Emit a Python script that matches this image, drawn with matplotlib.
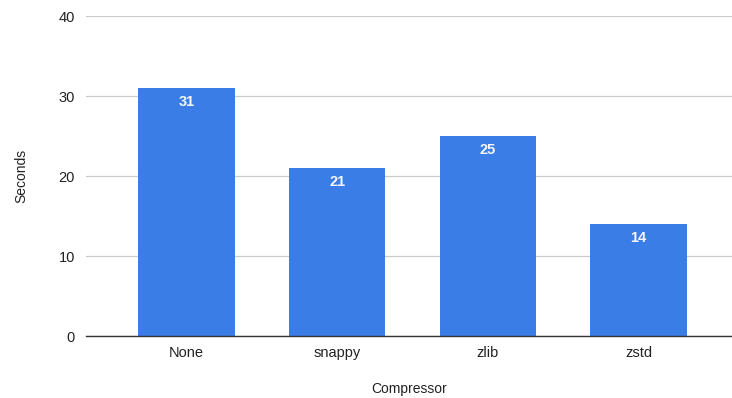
import matplotlib
matplotlib.use("Agg")
import matplotlib.pyplot as plt

categories = ["None", "snappy", "zlib", "zstd"]
seconds = [31, 21, 25, 14]
yticks = [0, 10, 20, 30, 40]

plt.rcParams['font.family'] = ['Liberation Sans', 'DejaVu Sans']

fig = plt.figure(figsize=(7.32, 3.98), dpi=100)
ax = fig.add_axes([86/732, 62/398, 1 - 86/732, (336-16)/398])

x = list(range(len(categories)))
bars = ax.bar(x, seconds, width=0.64, color="#3a7de6", zorder=3)
for xi, v in zip(x, seconds):
    ax.text(xi, v - 0.9, f"{v}", ha="center", va="top", color="#f4f7ff",
            fontsize=10.5, fontweight="bold", zorder=4)

ax.set_xlim(-0.666, 3.62)
ax.set_ylim(0, 40)
ax.set_yticks(yticks)
ax.set_xticks(x)
ax.set_xticklabels(categories)
ax.grid(axis="y", color="#cccccc", linewidth=0.9, zorder=0)
for s in ["top", "right", "left"]:
    ax.spines[s].set_visible(False)
ax.spines["bottom"].set_color("#333333")
ax.spines["bottom"].set_linewidth(1.0)
ax.spines["bottom"].set_zorder(5)
ax.tick_params(axis="both", length=0, labelsize=10.5, colors="#222222")
ax.tick_params(axis="y", pad=8)
ax.tick_params(axis="x", pad=7)
ax.set_ylabel("Seconds", fontsize=10, color="#222222", labelpad=22)
ax.set_xlabel("Compressor", fontsize=10, color="#222222", labelpad=16)

fig.savefig("out.png", dpi=100, facecolor="white")
